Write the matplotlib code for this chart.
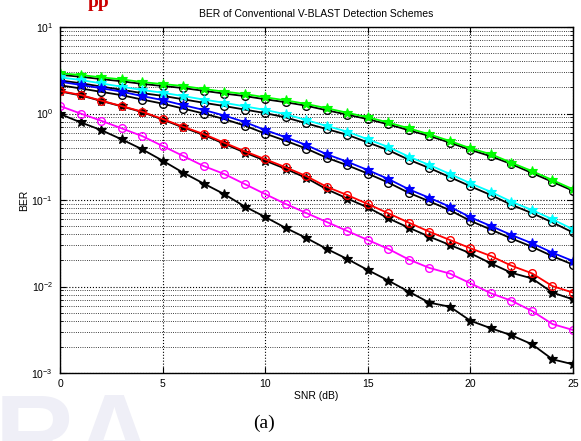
import numpy as np
import matplotlib
matplotlib.use('Agg')
import matplotlib.pyplot as plt
from matplotlib.ticker import LogLocator, NullFormatter

# SNR axis (dB)
snr = list(range(26))

# BER curves
ber_green = [2.92, 2.79, 2.62, 2.48, 2.31, 2.19, 2.08, 1.92, 1.79, 1.68, 1.54, 1.42, 1.29,
             1.15, 1.02, 0.904, 0.787, 0.674, 0.575, 0.481, 0.396, 0.338, 0.270, 0.216, 0.170, 0.133]
ber_green_k = [2.80, 2.66, 2.50, 2.36, 2.20, 2.08, 1.97, 1.83, 1.70, 1.59, 1.46, 1.35, 1.23,
               1.09, 0.97, 0.86, 0.75, 0.64, 0.55, 0.46, 0.38, 0.32, 0.26, 0.205, 0.162, 0.128]
ber_cyan = [2.62, 2.44, 2.23, 2.04, 1.87, 1.74, 1.59, 1.45, 1.33, 1.21, 1.10, 0.98, 0.84,
            0.717, 0.616, 0.503, 0.410, 0.317, 0.254, 0.200, 0.156, 0.124, 0.0955, 0.0766, 0.0598, 0.0458]
ber_cyan_k = [2.41, 2.24, 2.05, 1.88, 1.72, 1.60, 1.46, 1.33, 1.22, 1.11, 1.01, 0.90, 0.77,
              0.66, 0.567, 0.463, 0.377, 0.292, 0.234, 0.184, 0.144, 0.114, 0.0879, 0.0705, 0.055, 0.0421]
ber_blue = [2.33, 2.14, 1.96, 1.79, 1.59, 1.43, 1.25, 1.10, 0.948, 0.797, 0.644, 0.531, 0.432,
            0.338, 0.277, 0.222, 0.175, 0.133, 0.106, 0.0837, 0.0631, 0.050, 0.0394, 0.0316, 0.0246, 0.0197]
ber_blue_k = [2.12, 1.95, 1.78, 1.63, 1.45, 1.30, 1.14, 1.00, 0.863, 0.725, 0.586, 0.483, 0.393,
              0.308, 0.252, 0.202, 0.159, 0.121, 0.0965, 0.0762, 0.0574, 0.0455, 0.0359, 0.0288, 0.0224, 0.0179]
ber_red = [1.82, 1.64, 1.41, 1.22, 1.05, 0.864, 0.703, 0.579, 0.460, 0.366, 0.296, 0.239, 0.189,
           0.142, 0.114, 0.0899, 0.0702, 0.0547, 0.0430, 0.0345, 0.0277, 0.0225, 0.0174, 0.0142, 0.0101, 0.0085]
ber_red_k = [1.80, 1.62, 1.40, 1.21, 1.04, 0.85, 0.69, 0.565, 0.447, 0.354, 0.285, 0.229, 0.180,
             0.133, 0.104, 0.082, 0.0614, 0.0478, 0.0377, 0.0302, 0.0242, 0.0185, 0.0144, 0.0124, 0.0085, 0.0071]
ber_magenta = [1.22, 1.00, 0.826, 0.674, 0.549, 0.421, 0.323, 0.247, 0.200, 0.153, 0.117, 0.090, 0.0708,
               0.0557, 0.0438, 0.0345, 0.0272, 0.0205, 0.0164, 0.0141, 0.0109, 0.00834, 0.00685, 0.00521, 0.00368, 0.00314]
ber_black = [0.986, 0.791, 0.644, 0.503, 0.386, 0.285, 0.207, 0.155, 0.117, 0.0841, 0.0636, 0.0475, 0.0364,
             0.0272, 0.0208, 0.0155, 0.0117, 0.00871, 0.00650, 0.00584, 0.00402, 0.00329, 0.00273, 0.00215, 0.00144, 0.00126]

plt.rcParams['font.family'] = ['Liberation Sans', 'DejaVu Sans']

fig = plt.figure(figsize=(5.81, 4.41), dpi=100)
fig.patch.set_facecolor('white')

# faint watermark behind the figure
fig.text(-0.01, -0.07, 'RA', fontsize=80, fontweight='bold', color='#efeff7',
         family='Liberation Sans', zorder=0)

ax = fig.add_axes([60 / 581, 68 / 441, 513 / 581, 346 / 441])
ax.set_facecolor('white')

lw = 1.3
ms = 5.5
# black reference curves first, coloured ones on top
ax.semilogy(snr, ber_green_k, 'k-o', lw=lw, ms=ms, mfc='none', mew=1.0)
ax.semilogy(snr, ber_cyan_k, 'k-o', lw=lw, ms=ms, mfc='none', mew=1.0)
ax.semilogy(snr, ber_blue_k, 'k-o', lw=lw, ms=ms, mfc='none', mew=1.0)
ax.semilogy(snr, ber_red_k, 'k-*', lw=lw, ms=ms + 2, mew=0.8)
ax.semilogy(snr, ber_black, 'k-*', lw=lw, ms=ms + 2, mew=0.8)
ax.semilogy(snr, ber_green, '-*', color='#00ff00', lw=lw, ms=ms + 2, mew=0.8)
ax.semilogy(snr, ber_cyan, '-*', color='#00ffff', lw=lw, ms=ms + 2, mew=0.8)
ax.semilogy(snr, ber_blue, '-*', color='#0000ff', lw=lw, ms=ms + 2, mew=0.8)
ax.semilogy(snr, ber_red, '-o', color='#ff0000', lw=lw, ms=ms, mfc='none', mew=1.0)
ax.semilogy(snr, ber_magenta, '-o', color='#ff00ff', lw=lw, ms=ms, mfc='none', mew=1.0)

ax.set_xlim(0, 25)
ax.set_ylim(1e-3, 1e1)
ax.set_xticks([0, 5, 10, 15, 20, 25])
ax.yaxis.set_major_locator(LogLocator(base=10, numticks=10))
ax.yaxis.set_minor_locator(LogLocator(base=10, subs=np.arange(2, 10), numticks=20))
ax.yaxis.set_minor_formatter(NullFormatter())

ax.grid(True, which='major', ls=':', color='black', lw=0.8)
ax.grid(True, which='minor', axis='y', ls=':', color='black', lw=0.6)
ax.tick_params(which='both', direction='in', top=True, right=True, labelsize=7.5)
ax.tick_params(axis='x', pad=4)
ax.tick_params(axis='y', pad=5)
ax.tick_params(which='major', length=4)
ax.tick_params(which='minor', length=2)
for s in ax.spines.values():
    s.set_linewidth(1.0)

ax.set_title('BER of Conventional V-BLAST Detection Schemes', fontsize=7.5, pad=7)
ax.set_xlabel('SNR (dB)', fontsize=7.5, labelpad=2)
ax.set_ylabel('BER', fontsize=7.5, labelpad=2)

fig.text(0.455, 0.04, '(a)', fontsize=14, family='Liberation Serif', ha='center', va='center')
fig.text(0.17, 0.995, 'pp', fontsize=14, family='Liberation Serif', fontweight='bold',
         color='#cc0000', ha='center', va='center')

fig.savefig('out.png', dpi=100, facecolor='white')
